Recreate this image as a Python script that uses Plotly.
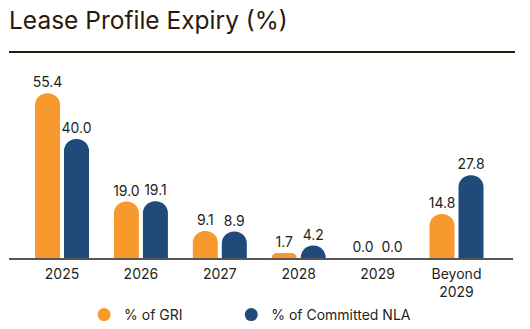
import plotly.graph_objects as go

categories = ["2025", "2026", "2027", "2028", "2029", "Beyond<br>2029"]
gri = [55.4, 19.0, 9.1, 1.7, 0.0, 14.8]
nla = [40.0, 19.1, 8.9, 4.2, 0.0, 27.8]
series_names = ["% of GRI", "% of Committed NLA"]
colors = ["#F7992D", "#1F4A7A"]
legend_ids = ["legend", "legend2"]

FONT = "Inter"
TXT = "#231F20"

fig = go.Figure()
for vals, name, col, lg in zip([gri, nla], series_names, colors, legend_ids):
    fig.add_trace(go.Bar(
        x=list(range(len(categories))), y=vals, name=name,
        marker=dict(color=col, cornerradius="50%", line=dict(width=0)),
        text=[f"{v:.1f}" for v in vals], textposition="outside",
        textfont=dict(family=FONT, size=14, color=TXT),
        constraintext="none", cliponaxis=False, showlegend=False,
    ))
    fig.add_trace(go.Scatter(
        x=[None], y=[None], mode="markers", name=name, legend=lg,
        marker=dict(color=col, size=13, symbol="circle"),
    ))

legend_common = dict(orientation="h", xanchor="left", yref="container",
                     y=1-315/329, yanchor="middle",
                     font=dict(family=FONT, size=14, color=TXT),
                     bgcolor="rgba(0,0,0,0)")

fig.update_layout(
    width=530, height=329,
    margin=dict(l=9, r=17, t=60, b=71),
    paper_bgcolor="white", plot_bgcolor="white",
    barmode="group", bargap=0.265, bargroupgap=0.138,
    title=dict(text="Lease Profile Expiry (%)", x=9/530, xanchor="left",
               xref="container", y=1-20/329, yanchor="middle",
               font=dict(family=FONT, size=24.5, color="#2A1A0C")),
    xaxis=dict(range=[-0.672, 5.716], tickmode="array", automargin=False,
               tickvals=list(range(len(categories))), ticktext=categories,
               showline=True, linecolor="#555555", linewidth=1.5,
               showgrid=False, zeroline=False, ticks="",
               ticklabelstandoff=2,
               tickfont=dict(family=FONT, size=14, color=TXT)),
    yaxis=dict(range=[0, 66.6], visible=False, showgrid=False, zeroline=False,
               automargin=False),
    legend=dict(x=0.149, **legend_common),
    legend2=dict(x=0.441, **legend_common),
    shapes=[dict(type="line", xref="paper", yref="paper", x0=0, x1=1.004,
                 y0=1.0404, y1=1.0404, line=dict(color="#2A1A0C", width=2))],
)

fig.write_html("out.html")
